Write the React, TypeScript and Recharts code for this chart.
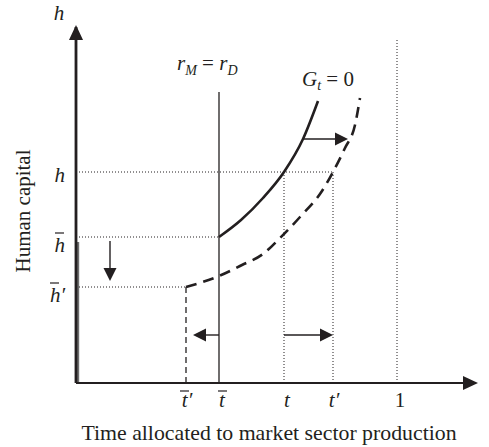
import { ComposedChart, Line, XAxis, YAxis, ReferenceLine, ReferenceDot } from 'recharts'

// x: time allocated to market production (0..400), y: human capital (0..356)
const xTicks = [110, 143, 208, 257, 321]
const xTickNames = ['t', 't', 't', 't', '1']
const xTickBars = [true, true, false, false, false]
const xTickPrimes = [true, false, false, true, false]

const yTicks = [96, 146, 211]
const yTickNames = ['h', 'h', 'h']
const yTickBars = [true, true, false]
const yTickPrimes = [true, false, false]

const solidCurve = [
  { x: 143, y: 146 },
  { x: 165, y: 163 },
  { x: 187, y: 185 },
  { x: 208, y: 211 },
  { x: 227, y: 244 },
  { x: 242, y: 282 },
]

const dashedCurve = [
  { x: 110, y: 96 },
  { x: 143, y: 107 },
  { x: 166, y: 118 },
  { x: 187, y: 129 },
  { x: 204, y: 145 },
  { x: 224, y: 166 },
  { x: 246, y: 192 },
  { x: 257, y: 211 },
  { x: 269, y: 235 },
  { x: 279, y: 258 },
  { x: 284, y: 285 },
]

const rLine = { x: 143, top: 291 }
const oneLine = { x: 321, top: 345 }

// arrows: [x1, y1, x2 (tip), y2 (tip)]
const shiftArrows = [
  [228, 244, 272, 244],
  [34, 142, 34, 102],
  [143, 48, 117, 48],
  [208, 48, 257, 48],
]

const ink = '#231f20'
const serif = '"Liberation Serif", "Times New Roman", serif'

function head(dir: string, len = 13, half = 6.5) {
  return (p: any) => {
    const { cx, cy } = p
    let pts = ''
    if (dir === 'right') pts = `${cx},${cy} ${cx - len},${cy - half} ${cx - len},${cy + half}`
    if (dir === 'left') pts = `${cx},${cy} ${cx + len},${cy - half} ${cx + len},${cy + half}`
    if (dir === 'up') pts = `${cx},${cy} ${cx - half},${cy + len} ${cx + half},${cy + len}`
    if (dir === 'down') pts = `${cx},${cy} ${cx - half},${cy - len} ${cx + half},${cy - len}`
    return <polygon points={pts} fill={ink} />
  }
}

function arrowDir(a: number[]) {
  if (a[0] === a[2]) return a[3] > a[1] ? 'up' : 'down'
  return a[2] > a[0] ? 'right' : 'left'
}

function XTick(props: any) {
  const { x, y, payload } = props
  const i = xTicks.indexOf(payload.value)
  const prime = xTickPrimes[i]
  const cx = x + (prime ? 1 : 3)
  const gx = prime ? cx - 3 : cx
  return (
    <g>
      {xTickBars[i] && <line x1={gx - 4} x2={gx + 5} y1={y} y2={y} stroke={ink} strokeWidth={1.2} />}
      <text x={cx} y={y + 16} textAnchor="middle" fontFamily={serif} fontSize={21}
        fontStyle={xTickNames[i] === '1' ? 'normal' : 'italic'} fill={ink}>
        {xTickNames[i]}{prime ? '′' : ''}
      </text>
    </g>
  )
}

function YTick(props: any) {
  const { x, y, payload } = props
  const i = yTicks.indexOf(payload.value)
  const prime = yTickPrimes[i]
  const bar = yTickBars[i]
  const base = y + (bar ? 15 : 10)
  const end = x - 3
  const gx = end - (prime ? 11 : 6)
  return (
    <g>
      {bar && <line x1={gx - 4} x2={gx + 5} y1={base - 19} y2={base - 19} stroke={ink} strokeWidth={1.2} />}
      <text x={end} y={base} textAnchor="end" fontFamily={serif} fontSize={21} fontStyle="italic" fill={ink}>
        {yTickNames[i]}{prime ? '′' : ''}
      </text>
    </g>
  )
}

const textShape = (node: (cx: number, cy: number) => any) => (p: any) => node(p.cx, p.cy)

export default function App() {
  return (
    <div style={{ position: 'absolute', left: 0, top: 0, background: '#fff' }}>
      <ComposedChart width={489} height={447} margin={{ top: 27, right: 13, bottom: 0, left: 0 }}>
        <XAxis
          type="number"
          dataKey="x"
          domain={[0, 400]}
          ticks={xTicks}
          tick={<XTick />}
          tickLine={false}
          tickSize={8}
          tickMargin={0}
          height={64}
          axisLine={{ stroke: ink, strokeWidth: 2.2 }}
          allowDataOverflow
          label={(p: any) => {
            const vb = p.viewBox
            return (
              <text x={vb.x + vb.width / 2 - 7} y={vb.y + 57} textAnchor="middle"
                fontFamily={serif} fontSize={21.8} fill={ink}>
                Time allocated to market sector production
              </text>
            )
          }}
        />
        <YAxis
          type="number"
          dataKey="y"
          domain={[0, 356]}
          ticks={yTicks}
          tick={<YTick />}
          tickLine={false}
          tickSize={8}
          tickMargin={0}
          width={76}
          axisLine={{ stroke: ink, strokeWidth: 2.8 }}
          allowDataOverflow
          label={(p: any) => {
            const vb = p.viewBox
            const cx = vb.x + 30
            const cy = vb.y + vb.height / 2 + 6
            return (
              <text x={cx} y={cy} textAnchor="middle" transform={`rotate(-90 ${cx} ${cy})`}
                fontFamily={serif} fontSize={21} fill={ink}>
                Human capital
              </text>
            )
          }}
        />

        {/* grey overprint on the lower part of the vertical axis */}
        <ReferenceLine segment={[{ x: 2, y: 0 }, { x: 2, y: 141 }]} stroke="#6d6d6d" strokeWidth={2.4} ifOverflow="visible" />

        {/* dotted guides */}
        <ReferenceLine segment={[{ x: 0, y: yTicks[2] }, { x: xTicks[3], y: yTicks[2] }]} stroke={ink} strokeWidth={1} strokeDasharray="1 2" />
        <ReferenceLine segment={[{ x: 0, y: yTicks[1] }, { x: xTicks[1], y: yTicks[1] }]} stroke={ink} strokeWidth={1} strokeDasharray="1 2" />
        <ReferenceLine segment={[{ x: 0, y: yTicks[0] }, { x: xTicks[0], y: yTicks[0] }]} stroke={ink} strokeWidth={1} strokeDasharray="1 2" />
        <ReferenceLine segment={[{ x: xTicks[2], y: 0 }, { x: xTicks[2], y: yTicks[2] }]} stroke={ink} strokeWidth={1} strokeDasharray="1 2" />
        <ReferenceLine segment={[{ x: xTicks[3], y: 0 }, { x: xTicks[3], y: yTicks[2] }]} stroke={ink} strokeWidth={1} strokeDasharray="1 2" />
        <ReferenceLine segment={[{ x: oneLine.x, y: 0 }, { x: oneLine.x, y: oneLine.top }]} stroke={ink} strokeWidth={1} strokeDasharray="1 2" />

        {/* dashed drop from t-bar-prime */}
        <ReferenceLine segment={[{ x: xTicks[0], y: 0 }, { x: xTicks[0], y: yTicks[0] }]} stroke={ink} strokeWidth={1.3} strokeDasharray="6 4" />

        {/* r_M = r_D */}
        <ReferenceLine segment={[{ x: rLine.x, y: 0 }, { x: rLine.x, y: rLine.top }]} stroke={ink} strokeWidth={1.3} />

        <Line data={solidCurve} dataKey="y" type="monotone" stroke={ink} strokeWidth={2.6} dot={false} isAnimationActive={false} />
        <Line data={dashedCurve} dataKey="y" type="monotone" stroke={ink} strokeWidth={2.6} strokeDasharray="11 7" dot={false} isAnimationActive={false} />

        {shiftArrows.map((a, i) => {
          const d = arrowDir(a)
          const sx = d === 'right' ? -6 : d === 'left' ? 6 : 0
          const sy = d === 'up' ? -6 : d === 'down' ? 6 : 0
          return [
            <ReferenceLine key={`s${i}`} segment={[{ x: a[0], y: a[1] }, { x: a[2] + sx, y: a[3] + sy }]} stroke={ink} strokeWidth={1.4} />,
            <ReferenceDot key={`h${i}`} x={a[2]} y={a[3]} r={1} shape={head(d)} ifOverflow="visible" />,
          ]
        })}

        {/* axis arrowheads */}
        <ReferenceDot x={0} y={358} r={1} shape={head('up', 15, 7)} ifOverflow="visible" />
        <ReferenceDot x={402} y={0} r={1} shape={head('right', 15, 7)} ifOverflow="visible" />

        {/* annotations */}
        <ReferenceDot x={-17} y={363} r={1} ifOverflow="visible" shape={textShape((cx, cy) => (
          <text x={cx} y={cy} textAnchor="middle" fontFamily={serif} fontSize={21} fontStyle="italic" fill={ink}>h</text>
        ))} />
        <ReferenceDot x={101} y={313} r={1} ifOverflow="visible" shape={textShape((cx, cy) => (
          <text x={cx} y={cy} fontFamily={serif} fontSize={21} fill={ink}>
            <tspan fontStyle="italic">r</tspan>
            <tspan fontStyle="italic" fontSize={14} dy={5}>M</tspan>
            <tspan dy={-5}> = </tspan>
            <tspan fontStyle="italic">r</tspan>
            <tspan fontStyle="italic" fontSize={14} dy={5}>D</tspan>
          </text>
        ))} />
        <ReferenceDot x={226} y={297} r={1} ifOverflow="visible" shape={textShape((cx, cy) => (
          <text x={cx} y={cy} fontFamily={serif} fontSize={21} fill={ink}>
            <tspan fontStyle="italic">G</tspan>
            <tspan fontStyle="italic" fontSize={14} dy={4}>t</tspan>
            <tspan dy={-4}> = 0</tspan>
          </text>
        ))} />
      </ComposedChart>
    </div>
  )
}
